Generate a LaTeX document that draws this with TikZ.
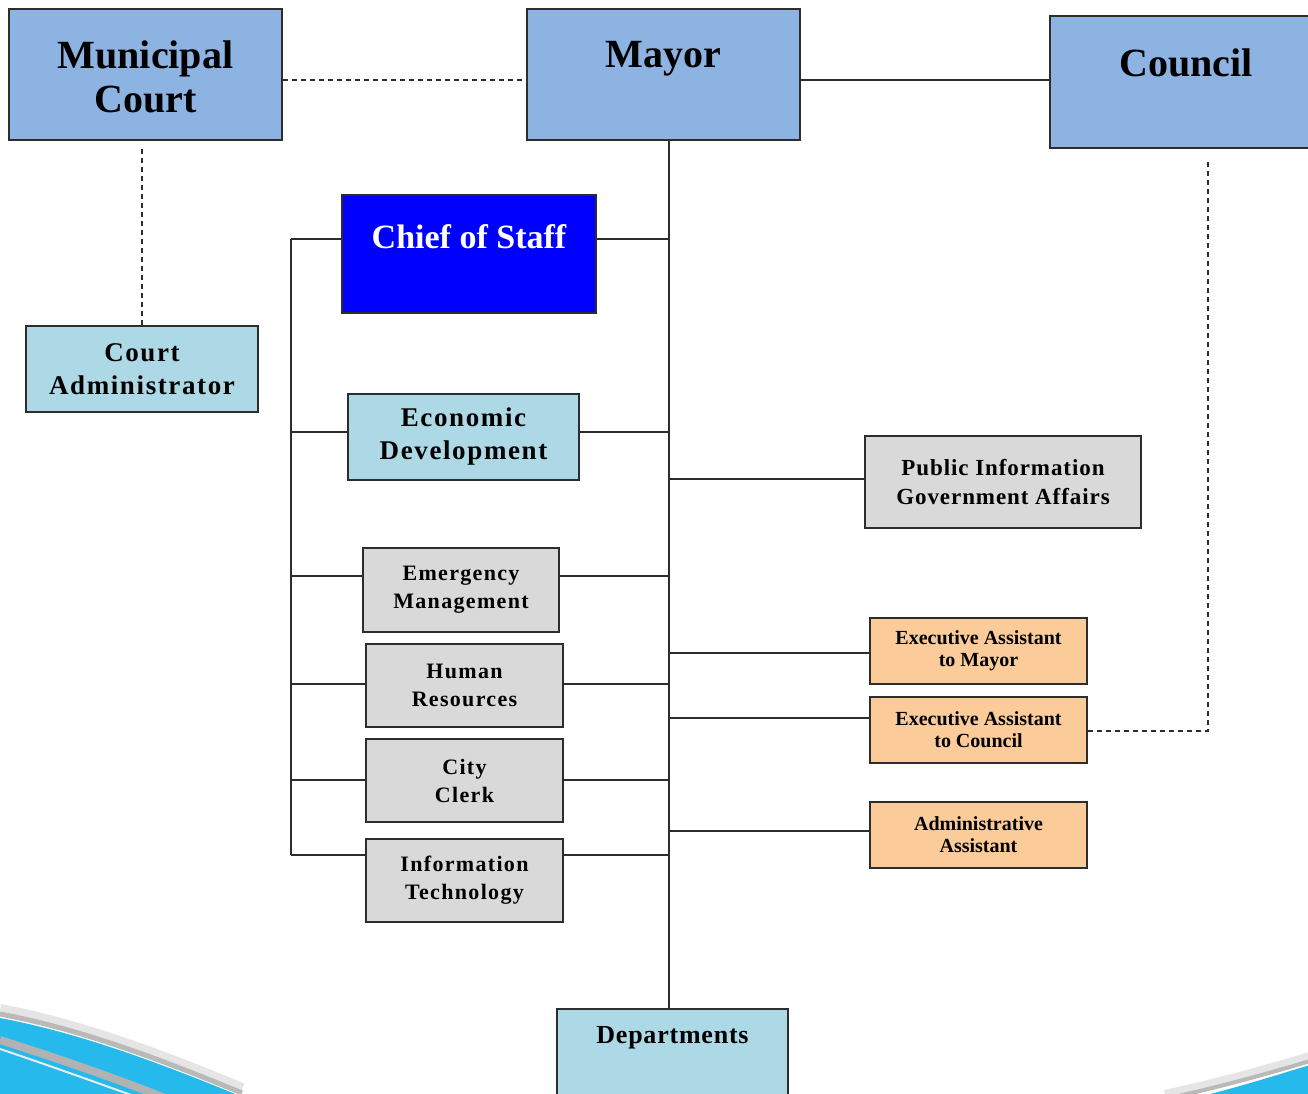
\documentclass[tikz,border=0pt]{standalone}
\usepackage{fontspec}
\setmainfont{Liberation Serif}
\newfontfamily\wideA[LetterSpace=6]{Liberation Serif}
\newfontfamily\wideB[LetterSpace=4]{Liberation Serif}
\newfontfamily\wideC[LetterSpace=3]{Liberation Serif}
\definecolor{topblue}{RGB}{141,179,226}
\definecolor{lightblue}{RGB}{173,216,230}
\definecolor{boxgray}{RGB}{217,217,217}
\definecolor{peach}{RGB}{251,203,153}
\definecolor{chiefblue}{RGB}{0,0,255}
\definecolor{swblue}{RGB}{38,186,236}
\definecolor{edge}{RGB}{45,45,45}
\tikzset{
  box/.style={draw=edge, line width=1.8pt, inner sep=0pt, align=center},
  conn/.style={draw=edge, line width=1.8pt},
  dconn/.style={draw=edge, line width=1.6pt, dash pattern=on 5pt off 4pt},
  bigtext/.style={font=\fontsize{40}{44}\selectfont\bfseries},
  midtext/.style={font=\wideA\fontsize{27}{33}\selectfont\bfseries},
  graytext/.style={font=\wideA\fontsize{22}{28}\selectfont\bfseries},
  pubtext/.style={font=\wideB\fontsize{23}{29}\selectfont\bfseries},
  smalltext/.style={font=\fontsize{20}{22}\selectfont\bfseries},
}
\begin{document}
\begin{tikzpicture}[x=1pt,y=-1pt]
\useasboundingbox (0,0) rectangle (1308,1094);
\fill[white] (0,0) rectangle (1308,1094);
% bottom swooshes
\begin{scope}
\clip (0,0) rectangle (1308,1094);
\draw[gray!20, line width=12pt] (0,1010) .. controls (80,1025) and (160,1055) .. (242,1089);
\draw[gray!55, line width=5pt] (0,1014) .. controls (80,1029) and (160,1059) .. (242,1093);
\fill[swblue] (0,1018) .. controls (80,1033) and (160,1063) .. (245,1098) -- (0,1098) -- cycle;
\draw[gray!60, line width=8pt] (0,1040) .. controls (50,1056) and (110,1076) .. (170,1100);
\draw[white!85!gray, line width=2pt] (0,1049) .. controls (45,1064) and (95,1082) .. (145,1100);
\draw[gray!20, line width=10pt] (1310,1057) .. controls (1270,1069) and (1220,1083) .. (1165,1095);
\draw[gray!55, line width=4pt] (1310,1061) .. controls (1270,1073) and (1220,1087) .. (1165,1099);
\fill[swblue] (1310,1065) .. controls (1270,1077) and (1230,1090) .. (1185,1100) -- (1310,1100) -- cycle;
\end{scope}

% top row
\node[box, bigtext, fill=topblue, minimum width=273pt, minimum height=131pt, text height=76pt, text depth=0pt] (mc) at (145.5,74.5) {Municipal\\Court};
\node[box, bigtext, fill=topblue, minimum width=273pt, minimum height=131pt, text height=27pt, text depth=40pt] (mayor) at (663.5,74.5) {Mayor};
\node[box, bigtext, fill=topblue, minimum width=272pt, minimum height=132pt, text height=27pt, text depth=37pt] (council) at (1186,82) {Council};

% left column
\node[box, midtext, fill=lightblue, minimum width=232pt, minimum height=86pt] (ca) at (142,369) {Court\\Administrator};
\node[box, fill=chiefblue, text=white, font=\fontsize{34}{40}\selectfont\bfseries, minimum width=254pt, minimum height=118pt, text height=23pt, text depth=35pt] (cos) at (469,254) {Chief of Staff};
\node[box, midtext, fill=lightblue, minimum width=231pt, minimum height=86pt] (econ) at (463.5,437) {Economic\\Development};
\node[box, graytext, fill=boxgray, minimum width=196pt, minimum height=84pt] (emg) at (461,590) {Emergency\\Management};
\node[box, graytext, fill=boxgray, minimum width=197pt, minimum height=83pt] (hr) at (464.5,685.5) {Human\\Resources};
\node[box, graytext, fill=boxgray, minimum width=197pt, minimum height=83pt] (clerk) at (464.5,780.5) {City\\Clerk};
\node[box, graytext, fill=boxgray, minimum width=197pt, minimum height=83pt] (it) at (464.5,880.5) {Information\\Technology};

% right column
\node[box, pubtext, fill=boxgray, minimum width=276pt, minimum height=92pt] (pub) at (1003,482) {Public Information\\Government Affairs};
\node[box, smalltext, fill=peach, minimum width=217pt, minimum height=66pt] (eam) at (978.5,651) {Executive Assistant\\to Mayor};
\node[box, smalltext, fill=peach, minimum width=217pt, minimum height=66pt] (eac) at (978.5,730) {Executive Assistant\\to Council};
\node[box, smalltext, fill=peach, minimum width=217pt, minimum height=66pt] (aa) at (978.5,835) {Administrative\\Assistant};

% departments
\node[box, fill=lightblue, font=\wideC\fontsize{26}{30}\selectfont\bfseries, minimum width=231pt, minimum height=111pt, text height=18pt, text depth=61pt] (dep) at (672.5,1064.5) {Departments};

% reference coordinates
\coordinate (yTop) at (0,80);
\coordinate (tx) at (669,0);
\coordinate (lx) at (291,0);
\coordinate (cdx) at (1208,0);

% top connectors
\draw[dconn] (mc.east |- yTop) -- (mayor.west |- yTop);
\draw[conn] (mayor.east |- yTop) -- (council.west |- yTop);
\path (ca.north |- mc.south) coordinate (mcb0);
\draw[dconn] ([yshift=-8pt]mcb0) -- (ca.north);

% mayor trunk
\draw[conn] (mayor.south -| tx) -- (dep.north -| tx);

% left branches and bracket
\foreach \n/\s in {cos/15,econ/5,emg/14,hr/1.5,clerk/0.5,it/25.5}{
  \path ([yshift=\s pt]\n.west) coordinate (L\n);
  \path ([yshift=\s pt]\n.east) coordinate (R\n);
  \draw[conn] (L\n) -- (L\n -| lx);
  \draw[conn] (R\n) -- (R\n -| tx);
}
\draw[conn] (Lcos -| lx) -- (Lit -| lx);

% right branches
\foreach \n/\s in {pub/3,eam/-2,eac/12,aa/4}{
  \path ([yshift=\s pt]\n.west) coordinate (P\n);
  \draw[conn] (P\n -| tx) -- (P\n);
}

% council dashed link
\path (council.south -| cdx) coordinate (cb0);
\path ([yshift=-1pt]eac.east) coordinate (eacR);
\draw[dconn] (eacR) -- (eacR -| cdx) -- ([yshift=-12pt]cb0);
\end{tikzpicture}
\end{document}
